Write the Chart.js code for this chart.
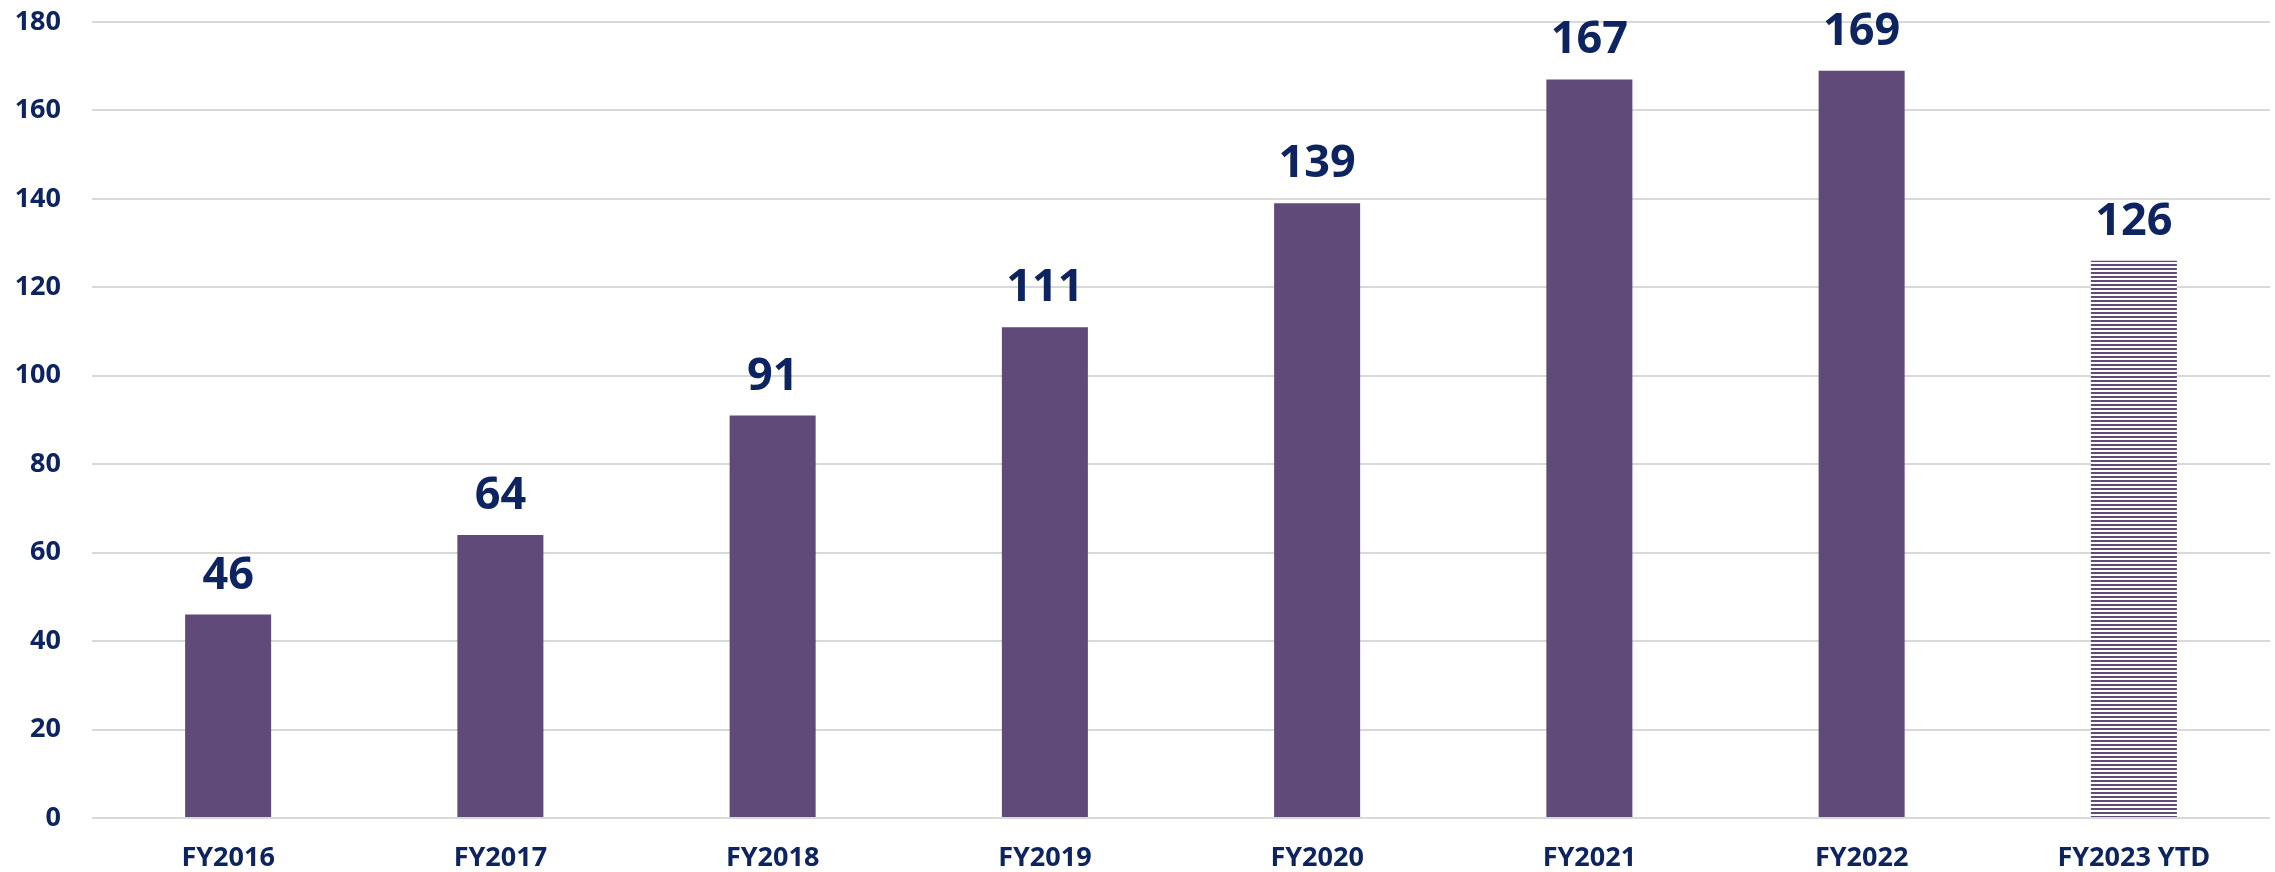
<!DOCTYPE html>
<html>
<head>
<meta charset="utf-8">
<script src="https://cdn.jsdelivr.net/npm/chart.js@4/dist/chart.umd.min.js"></script>
<style>
  html, body { margin: 0; padding: 0; background: #fff; }
  #wrap { width: 2275px; height: 872px; }
</style>
</head>
<body>
<div id="wrap"><canvas id="chart" width="2275" height="872"></canvas></div>
<script>
const categories = ['FY2016', 'FY2017', 'FY2018', 'FY2019', 'FY2020', 'FY2021', 'FY2022', 'FY2023 YTD'];
const values = [46, 64, 91, 111, 139, 167, 169, 126];
const yTicks = [0, 20, 40, 60, 80, 100, 120, 140, 160, 180];

const purple = '#5F4A7A';
const navy = '#0D2461';
const fontFamily = '"Open Sans", "Noto Sans", sans-serif';

// horizontal stripes for the year-to-date bar
const makeStripes = () => {
    const p = document.createElement('canvas');
    p.width = 4;
    p.height = 4;
    const c = p.getContext('2d');
    c.fillStyle = '#ffffff';
    c.fillRect(0, 0, 4, 4);
    c.fillStyle = purple;
    c.fillRect(0, 0, 4, 2);
    return c.createPattern(p, 'repeat');
};

const ctx = document.getElementById('chart').getContext('2d');
const stripes = makeStripes();

// value labels above each bar
const valueLabels = {
    id: 'valueLabels',
    afterDatasetsDraw(chart) {
        const c = chart.ctx;
        const meta = chart.getDatasetMeta(0);
        c.save();
        c.font = `bold 45px ${fontFamily}`;
        c.fillStyle = navy;
        c.textAlign = 'center';
        c.textBaseline = 'alphabetic';
        meta.data.forEach((bar, i) => {
            c.fillText(values[i], bar.x, bar.y - 26);
        });
        c.restore();
    }
};

new Chart(ctx, {
    type: 'bar',
    data: {
        labels: categories,
        datasets: [{
            data: values,
            backgroundColor: values.map((v, i) => i === values.length - 1 ? stripes : purple),
            borderWidth: 0,
            categoryPercentage: 0.316,
            barPercentage: 1,
        }]
    },
    options: {
        responsive: false,
        animation: false,
        layout: { padding: { top: 22, right: 5, left: 0, bottom: 0 } },
        plugins: {
            legend: { display: false },
            tooltip: { enabled: false },
        },
        scales: {
            x: {
                grid: { display: false, drawTicks: false },
                border: { display: false },
                ticks: {
                    color: navy,
                    font: { family: fontFamily, size: 27, weight: 'bold' },
                    padding: 24,
                    maxRotation: 0,
                },
                afterFit: (scale) => {
                    scale.height = 54;
                    scale.paddingLeft = 0;
                    scale.paddingRight = 0;
                },
            },
            y: {
                min: 0,
                max: 180,
                afterBuildTicks: (scale) => { scale.ticks = yTicks.map((v) => ({ value: v })); },
                grid: { color: '#D9D9D9', lineWidth: 2, drawTicks: false },
                border: { display: false },
                ticks: {
                    color: navy,
                    font: { family: fontFamily, size: 27, weight: 'bold' },
                    padding: 31,
                },
                afterFit: (scale) => {
                    scale.width = 92;
                    scale.paddingTop = 0;
                    scale.paddingBottom = 0;
                },
            }
        }
    },
    plugins: [valueLabels]
});
</script>
</body>
</html>
